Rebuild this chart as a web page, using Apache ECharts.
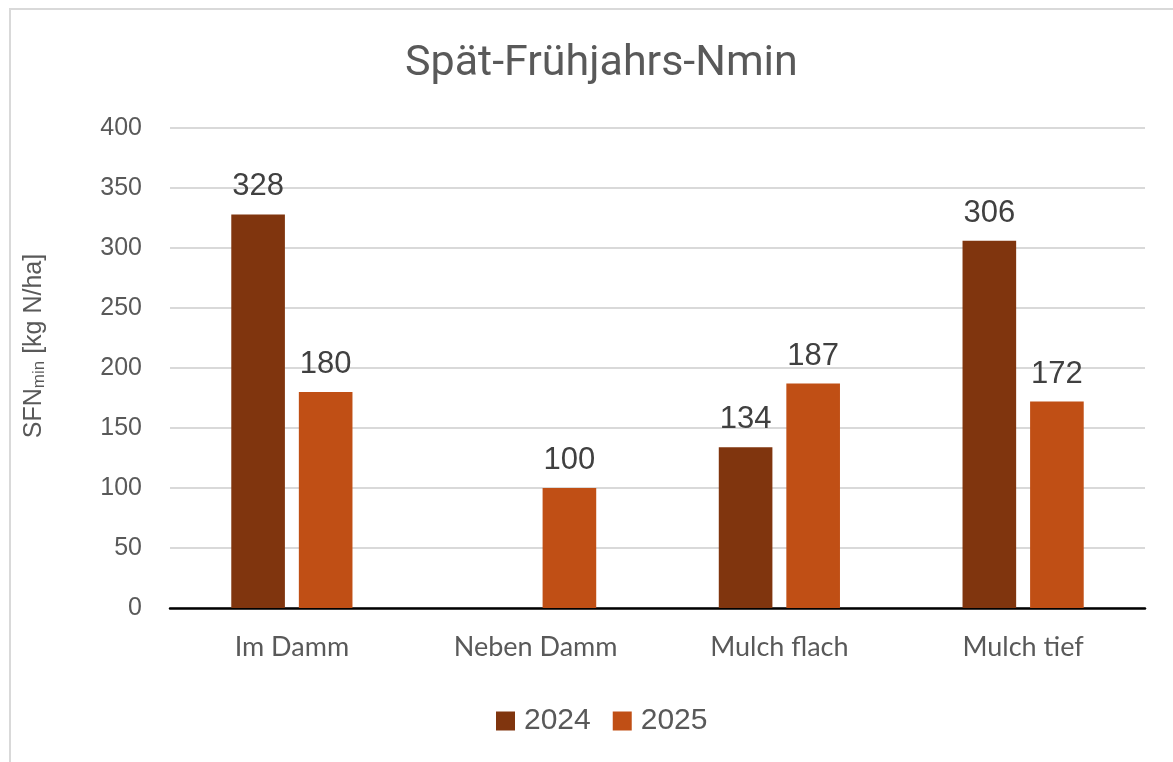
<!DOCTYPE html>
<html>
<head>
<meta charset="utf-8">
<script src="https://cdn.jsdelivr.net/npm/echarts@6/dist/echarts.min.js"></script>
<style>
  html, body { margin: 0; padding: 0; background: #fff; }
  #frame { position: absolute; left: 9px; top: 8px; width: 1164px; height: 754px;
           border-left: 2px solid #d9d9d9; border-top: 2px solid #d9d9d9; box-sizing: border-box; }
  #chartmain { position: absolute; left: 0; top: 0; width: 1173px; height: 762px; }
</style>
</head>
<body>
<div id="frame"></div>
<div id="chartmain"></div>
<script>
// Kategorien und Werte
var categories = ['Im Damm', 'Neben Damm', 'Mulch flach', 'Mulch tief'];
var years = ['2024', '2025'];
var values2024 = [328, null, 134, 306];
var values2025 = [180, 100, 187, 172];
var yTicks = [0, 50, 100, 150, 200, 250, 300, 350, 400];

window.onload = function () {
    var grau = '#595959';
    var labelStyle = {
        show: true,
        position: 'top',
        distance: 12,
        color: '#404040',
        fontSize: 31,
        fontFamily: 'Liberation Sans, Arial'
    };
    var option = {
        animation: false,
        backgroundColor: 'transparent',
        title: {
            text: 'Spät-Frühjahrs-Nmin',
            left: 400,
            top: 38,
            textStyle: { color: grau, fontSize: 43, fontWeight: 'normal', fontFamily: 'Roboto, Arial' }
        },
        legend: {
            data: years,
            left: 491,
            top: 701,
            itemWidth: 19,
            itemHeight: 19,
            itemGap: 22,
            icon: 'rect',
            textStyle: { color: grau, fontSize: 30, fontFamily: 'Liberation Sans, Arial', padding: [0, 0, 0, 4] }
        },
        grid: { left: 170, right: 28, top: 128, bottom: 154, containLabel: false },
        xAxis: {
            type: 'category',
            data: categories,
            axisTick: { show: false },
            axisLine: { lineStyle: { color: '#000', width: 2.5 } },
            axisLabel: { color: grau, fontSize: 27, margin: 26, fontFamily: 'Lato, Arial' }
        },
        yAxis: {
            type: 'value',
            min: yTicks[0],
            max: yTicks[yTicks.length - 1],
            interval: 50,
            axisLine: { show: false },
            axisTick: { show: false },
            splitLine: { lineStyle: { color: '#d9d9d9', width: 2 } },
            axisLabel: { color: grau, fontSize: 25, margin: 28, fontFamily: 'Liberation Sans, Arial' },
            name: '{a|SFN}{b|min}{a| [kg N/ha]}',
            nameLocation: 'middle',
            nameGap: 122,
            nameTextStyle: {
                padding: [0, 0, 0, 44],
                rich: {
                    a: { color: grau, fontSize: 25, fontFamily: 'Liberation Sans, Arial' },
                    b: { color: grau, fontSize: 17, fontFamily: 'Liberation Sans, Arial', padding: [10, 0, 0, 0] }
                }
            }
        },
        series: [
            {
                name: years[0],
                type: 'bar',
                data: values2024,
                barWidth: '22%',
                barGap: '26%',
                itemStyle: { color: '#80350E' },
                label: labelStyle
            },
            {
                name: years[1],
                type: 'bar',
                data: values2025,
                barWidth: '22%',
                itemStyle: { color: '#C04F15' },
                label: labelStyle
            }
        ]
    };
    var myChart = echarts.init(document.getElementById('chartmain'));
    myChart.setOption(option);
};
</script>
</body>
</html>
